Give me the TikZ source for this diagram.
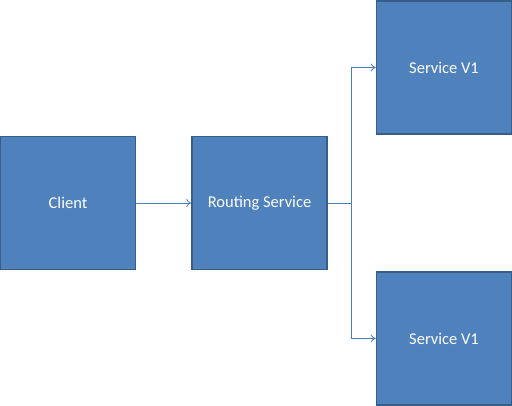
\documentclass[tikz,border=0pt]{standalone}
\usepackage{fontspec}
\setmainfont{Carlito}
\usetikzlibrary{positioning,arrows.meta}
\definecolor{boxfill}{HTML}{4F81BD}
\definecolor{boxline}{HTML}{385D8A}
\definecolor{linkcol}{HTML}{4A7EBB}
\tikzset{
  svcbox/.style={draw=boxline, line width=1.5pt, fill=boxfill, text=white,
    minimum width=135pt, minimum height=133pt, font=\fontsize{16.5}{18}\selectfont},
  link/.style={draw=linkcol, line width=0.8pt, -{To[length=5pt,width=8pt]}}
}

\begin{document}
\begin{tikzpicture}
\useasboundingbox (0,0) rectangle (512pt,-406pt);
\node[svcbox](client) at (68pt,-203pt) {Client};
\node[svcbox, right=55pt of client](routing) {Routing Service};
\node[svcbox, above right=1pt and 48pt of routing](v1top) {Service V1};
\node[svcbox, below right=1pt and 48pt of routing](v1bottom) {Service V1};
\coordinate[right=24pt of routing](fork);
\draw[link] (client) -- (routing);
\draw[link] (routing) -- (fork) |- (v1top);
\draw[link] (fork) |- (v1bottom);
\end{tikzpicture}
\end{document}
